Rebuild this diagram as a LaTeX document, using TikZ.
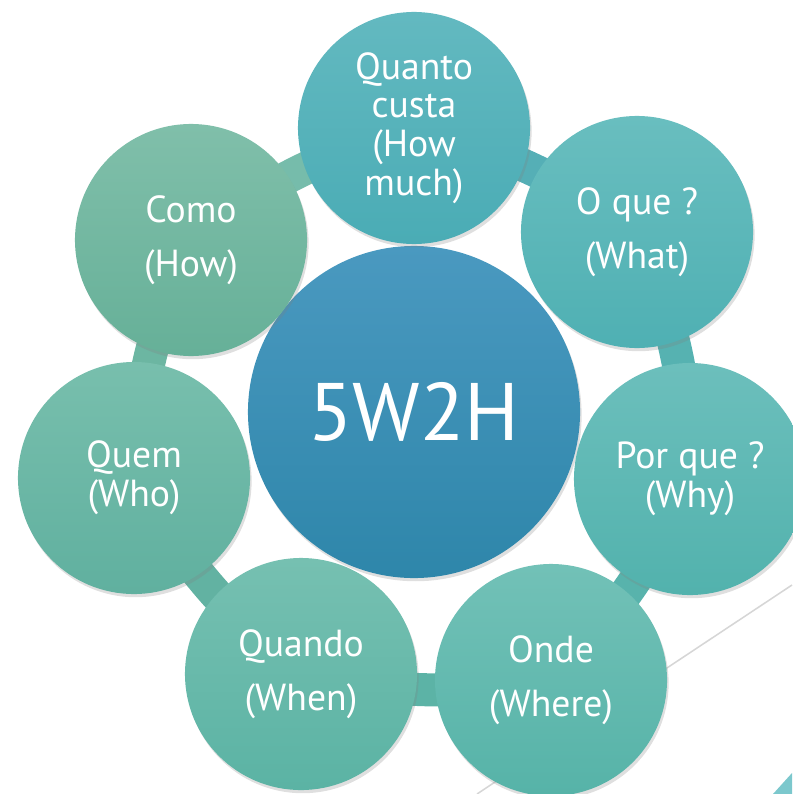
\documentclass[tikz,border=0pt]{standalone}
\usepackage{fontspec}
\setmainfont{PT Sans}
\usepackage{xcolor}
\usepackage{tikz}
\usetikzlibrary{backgrounds,shadows}

\definecolor{hubtop}{HTML}{4A99C0}
\definecolor{hubbot}{HTML}{2E86AA}
\definecolor{linegray}{HTML}{D6D6D6}
\definecolor{cornerteal}{HTML}{7CC8CD}
\definecolor{quantotop}{HTML}{63B9C0}
\definecolor{quantobot}{HTML}{4AACB5}
\definecolor{oquetop}{HTML}{69BEBF}
\definecolor{oquebot}{HTML}{4FB0B3}
\definecolor{porquetop}{HTML}{6CBFBC}
\definecolor{porquebot}{HTML}{52B2AD}
\definecolor{ondetop}{HTML}{72C1B7}
\definecolor{ondebot}{HTML}{56B3A8}
\definecolor{quandotop}{HTML}{76C0B1}
\definecolor{quandobot}{HTML}{5BB3A4}
\definecolor{quemtop}{HTML}{78BFAD}
\definecolor{quembot}{HTML}{60B09F}
\definecolor{comotop}{HTML}{80BFAA}
\definecolor{comobot}{HTML}{66B098}
\definecolor{ring1}{HTML}{55AFB6}
\definecolor{ring2}{HTML}{56B2B1}
\definecolor{ring3}{HTML}{58B3AC}
\definecolor{ring4}{HTML}{5CB3A6}
\definecolor{ring5}{HTML}{62B2A2}
\definecolor{ring6}{HTML}{6CB6A2}
\definecolor{ring7}{HTML}{76BCAB}

\begin{document}
\begin{tikzpicture}[x=0.025cm, y=-0.025cm,
	hub/.style = {circle, minimum size=8.3cm, inner sep=0pt, text=white, font=\fontsize{58}{60}\selectfont, top color=hubtop, bottom color=hubbot, drop shadow={opacity=0.25, shadow xshift=0.4mm, shadow yshift=-0.8mm}},
	leaf/.style = {circle, minimum size=5.8cm, inner sep=0pt, text=white, align=center, font=\fontsize{26.8}{27.5}\selectfont, top color=#1top, bottom color=#1bot, drop shadow={opacity=0.25, shadow xshift=0.4mm, shadow yshift=-0.8mm}},
	ring/.style = {line width=23.5pt, color=#1}]
		\useasboundingbox (0,0) rectangle (792,794);
		
		\node[hub] (hub) at (414,412) {5W2H};
		\node[leaf=quanto] (quanto) at (414,128) {Quanto\\custa\\(How\\much)};
		\node[leaf=oque] (oque) at (637,232) {O que ?\\[11pt] (What)};
		\node[leaf=porque] (porque) at (690,479) {Por que ?\\(Why)};
		\node[leaf=onde] (onde) at (551,680) {Onde\\[11pt](Where)};
		\node[leaf=quando] (quando) at (301,674) {Quando\\[11pt](When)};
		\node[leaf=quem] (quem) at (134,478) {Quem\\(Who)};
		\node[leaf=como] (como) at (191,240) {Como\\[11pt](How)};
		
		\coordinate (lineA) at (477,794);
		\coordinate (lineB) at (792,585);
		
		\begin{scope}[on background layer]
			\draw[linegray, line width=1.1pt] (lineA) -- (lineB);
			\fill[cornerteal] (773,794) -- (792,794) -- (792,773) -- cycle;
			\draw[ring=ring1] (quanto.center) to[bend left=10] (oque.center);
			\draw[ring=ring2] (oque.center) to[bend left=10] (porque.center);
			\draw[ring=ring3] (porque.center) to[bend left=10] (onde.center);
			\draw[ring=ring4] (onde.center) to[bend left=10] (quando.center);
			\draw[ring=ring5] (quando.center) to[bend left=10] (quem.center);
			\draw[ring=ring6] (quem.center) to[bend left=10] (como.center);
			\draw[ring=ring7] (como.center) to[bend left=10] (quanto.center);
		\end{scope}
	\end{tikzpicture}
\end{document}
